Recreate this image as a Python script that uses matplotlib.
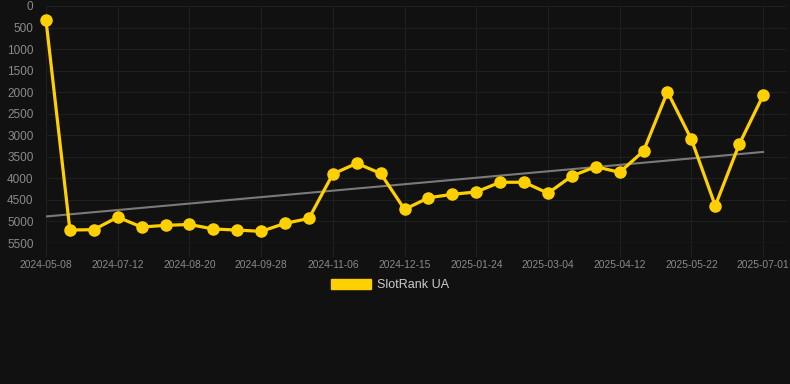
import matplotlib
matplotlib.use("Agg")
import matplotlib.pyplot as plt
from matplotlib.patches import Patch
import numpy as np

# Data (rank values, lower is better; y axis inverted)
values = [330, 5200, 5190, 4900, 5130, 5090, 5070, 5175, 5200, 5230,
          5045, 4930, 3900, 3650, 3885, 4720, 4450, 4370, 4315, 4090,
          4090, 4345, 3945, 3730, 3860, 3365, 1990, 3095, 4635, 3210, 2075]
tick_labels = ["2024-05-08", "2024-07-12", "2024-08-20", "2024-09-28",
               "2024-11-06", "2024-12-15", "2025-01-24", "2025-03-04",
               "2025-04-12", "2025-05-22", "2025-07-01"]
y_ticks = [0, 500, 1000, 1500, 2000, 2500, 3000, 3500, 4000, 4500, 5000, 5500]
series_name = "SlotRank UA"

BG = "#111111"
GRID = "#1f1f1f"
YELLOW = "#FFD000"
TXT = "#8a8a8a"

plt.rcParams['font.family'] = ['Liberation Sans', 'DejaVu Sans']

fig = plt.figure(figsize=(7.9, 3.84), dpi=100, facecolor=BG)
ax = fig.add_axes([46/790, 1-243/384, (787-46)/790, (243-6)/384])
ax.set_facecolor(BG)

x = np.arange(len(values))
# trend line (linear regression)
coef = np.polyfit(x, values, 1)
ax.plot(x, np.polyval(coef, x), color="#7a7a7a", lw=1.5, zorder=2)

ax.plot(x, values, color=YELLOW, lw=2.3, marker='o', markersize=8,
        markerfacecolor=YELLOW, markeredgecolor=YELLOW, zorder=3, clip_on=False)

ax.set_xlim(0, 31)
ax.set_ylim(5500, 0)
ax.set_yticks(y_ticks)
ax.set_yticklabels([str(v) for v in y_ticks])
ax.set_xticks(np.arange(0, len(values), 3))
ax.set_xticklabels(tick_labels)

ax.grid(True, color=GRID, lw=0.8)
ax.set_axisbelow(True)
for s in ax.spines.values():
    s.set_visible(False)
ax.tick_params(axis='y', length=0, pad=9, labelsize=8.5, labelcolor=TXT)
ax.tick_params(axis='x', length=10, color=GRID, width=0.8, pad=2, labelsize=7.4, labelcolor=TXT)
ax.axhline(5500, color="#2a2a2a", lw=1, zorder=1)

leg = fig.legend(handles=[Patch(facecolor=YELLOW, edgecolor=YELLOW, label=series_name)],
                 loc='center', bbox_to_anchor=(390/790, 1-285/384), frameon=False,
                 fontsize=9, handlelength=3.2, handleheight=0.9, handletextpad=0.55)
for t in leg.get_texts():
    t.set_color("#cccccc")

fig.savefig("out.png", dpi=100, facecolor=BG)
